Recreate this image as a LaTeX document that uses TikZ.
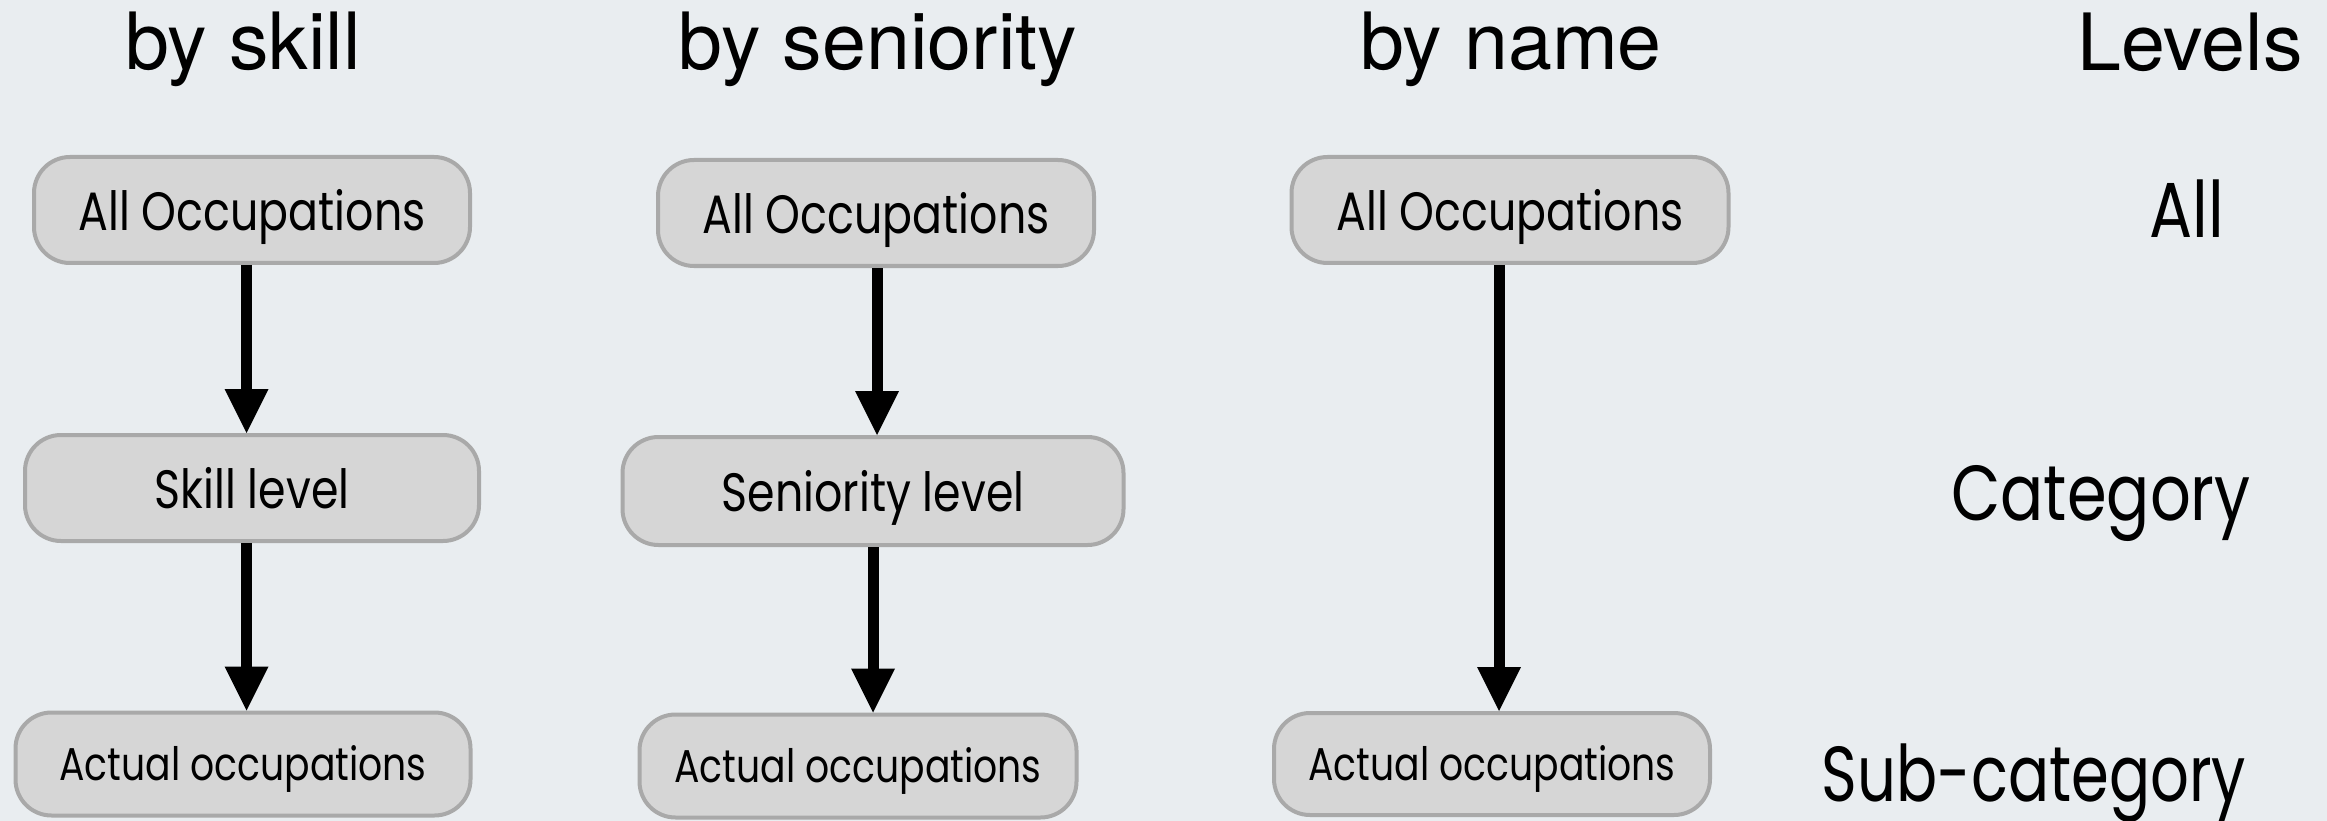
\documentclass[tikz,border=0pt]{standalone}
\usepackage{fontspec}
\setmainfont{TeX Gyre Heros}
\newfontfamily\fut[FakeStretch=0.82]{Poppins}
\newfontfamily\futn[FakeStretch=0.78]{Poppins}
\usetikzlibrary{arrows.meta}
\definecolor{bgcol}{HTML}{E9EDF0}
\definecolor{boxfill}{HTML}{D6D6D6}
\definecolor{boxline}{HTML}{A9A9A9}
\begin{document}
\begin{tikzpicture}[x=1pt,y=-1pt,
  box/.style={draw=boxline, line width=4pt, fill=boxfill, rounded corners=36pt,
    inner sep=0pt, text depth=0pt},
  bigtxt/.style={font=\fut\fontsize{54}{54}\selectfont, text height=41pt},
  smalltxt/.style={font=\fut\fontsize{46}{46}\selectfont, text height=32pt},
  conn/.style={line width=11pt, -{Triangle[width=44pt,length=44pt,line width=0pt]}},
  title/.style={anchor=base, font=\fontsize{79}{79}\selectfont},
  lvl/.style={anchor=base, font=\fut\fontsize{78}{78}\selectfont}]
\fill[bgcol] (0,0) rectangle (2327,821);
\useasboundingbox (0,0) rectangle (2327,821);

% titles
\node[title] (t1) at (243,70) {by skill};
\node[title] (t2) at (878,70) {by seniority};
\node[title] (t3) at (1511,70) {by name};
\node[title] (t4) at (2190,71) {Levels};

% level labels
\node[lvl] (l1) at (2187,238) {All};
\node[lvl] (l2) at (2101,520) {Category};
\node[lvl, font=\futn\fontsize{78}{78}\selectfont] (l3) at (2034,801) {Sub-category};

% column 1
\node[box, bigtxt, minimum width=436pt, minimum height=106pt] (b1) at (252,210) {All Occupations};
\node[box, bigtxt, minimum width=454pt, minimum height=106pt] (b2) at (252,488) {Skill level};
\node[box, smalltxt, minimum width=455pt, minimum height=103pt] (b3) at (243,764) {Actual occupations};

% column 2
\node[box, bigtxt, minimum width=436pt, minimum height=106pt] (b4) at (876,213) {All Occupations};
\node[box, bigtxt, minimum width=501pt, minimum height=108pt] (b5) at (873,491) {Seniority level};
\node[box, smalltxt, minimum width=437pt, minimum height=103pt] (b6) at (858,766) {Actual occupations};

% column 3
\node[box, bigtxt, minimum width=437pt, minimum height=106pt] (b7) at (1510,210) {All Occupations};
\node[box, smalltxt, minimum width=436pt, minimum height=102pt] (b8) at (1492,764) {Actual occupations};

% connectors
\draw[conn] ([xshift=-5.5pt]b1.south) -- ([xshift=-5.5pt]b2.north);
\draw[conn] ([xshift=-5.5pt]b2.south) -- ([xshift=3.5pt]b3.north);
\draw[conn] ([xshift=1pt]b4.south) -- ([xshift=4pt]b5.north);
\draw[conn] (b5.south) -- ([xshift=15pt]b6.north);
\draw[conn] ([xshift=-11pt]b7.south) -- ([xshift=7pt]b8.north);
\end{tikzpicture}
\end{document}
